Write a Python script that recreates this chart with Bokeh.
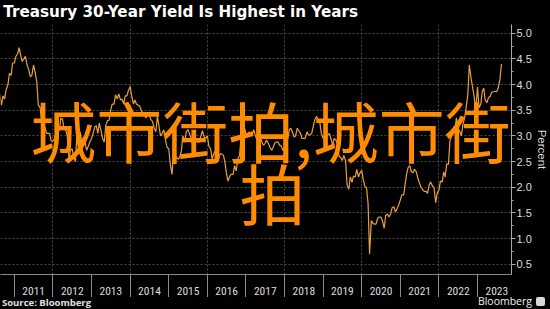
import numpy as np
import pandas as pd
from bokeh.plotting import figure
from bokeh.layouts import column
from bokeh.models import FixedTicker, Label, Range1d, NumeralTickFormatter, Div
from bokeh.embed import file_html
from bokeh.resources import INLINE

# ---- data (30-year Treasury yield, percent, 1st & 15th of each month) ----
y2010 = [3.82, 3.60, 3.78, 3.72, 3.90, 4.00, 4.22, 4.18, 4.42]
y2011 = [4.42, 4.55, 4.60, 4.72, 4.58, 4.45, 4.50, 4.55, 4.38, 4.30, 4.15, 4.18,
         4.38, 4.25, 4.05, 3.60, 3.55, 3.30, 2.85, 3.18, 3.05, 3.05, 3.05, 2.90]
y2012 = [2.90, 2.95, 3.05, 3.15, 3.10, 3.35, 3.32, 3.12, 3.12, 3.00, 2.55, 2.72,
         2.75, 2.58, 2.50, 3.02, 2.80, 3.08, 2.85, 2.98, 2.88, 2.72, 2.80, 2.88]
y2013 = [2.95, 3.05, 3.18, 3.20, 3.05, 3.25, 3.10, 2.95, 2.88, 3.20, 3.30, 3.30,
         3.50, 3.62, 3.62, 3.80, 3.72, 3.82, 3.70, 3.72, 3.62, 3.78, 3.78, 3.88]
y2014 = [3.96, 3.78, 3.62, 3.70, 3.62, 3.60, 3.58, 3.50, 3.45, 3.40, 3.35, 3.45,
         3.40, 3.32, 3.28, 3.15, 3.08, 3.38, 3.18, 3.00, 3.05, 3.12, 2.92, 2.78]
y2015 = [2.75, 2.45, 2.25, 2.70, 2.62, 2.58, 2.55, 2.58, 2.72, 3.00, 2.88, 3.08,
         3.12, 3.05, 2.95, 2.82, 2.95, 2.95, 2.88, 2.88, 3.00, 3.10, 2.98, 2.95]
y2016 = [3.00, 2.80, 2.75, 2.55, 2.65, 2.70, 2.65, 2.55, 2.65, 2.65, 2.62, 2.50,
         2.25, 2.12, 2.22, 2.25, 2.25, 2.42, 2.32, 2.55, 2.62, 2.95, 3.05, 3.18]
y2017 = [3.05, 3.00, 3.08, 3.02, 3.02, 3.12, 3.00, 2.92, 2.98, 2.98, 2.88, 2.82,
         2.85, 2.92, 2.85, 2.78, 2.72, 2.78, 2.86, 2.88, 2.88, 2.82, 2.80, 2.72]
y2018 = [2.75, 2.88, 2.95, 3.12, 3.15, 3.08, 2.98, 3.00, 3.15, 3.10, 3.05, 2.95,
         2.95, 2.95, 3.08, 3.02, 3.02, 3.05, 3.20, 3.32, 3.38, 3.30, 3.25, 3.05]
y2019 = [2.95, 3.00, 3.00, 3.02, 3.05, 2.95, 2.82, 2.95, 2.92, 2.85, 2.60, 2.58,
         2.52, 2.62, 2.52, 2.05, 1.96, 2.20, 2.10, 2.22, 2.20, 2.35, 2.20, 2.28]
y2020 = [2.33, 2.15, 2.00, 2.00, 1.68, 0.70, 1.35, 1.30, 1.28, 1.28, 1.40, 1.42,
         1.42, 1.35, 1.20, 1.45, 1.48, 1.42, 1.48, 1.60, 1.62, 1.52, 1.58, 1.65]
y2021 = [1.75, 1.85, 1.85, 2.05, 2.25, 2.38, 2.42, 2.30, 2.28, 2.35, 2.30, 2.18,
         2.08, 2.00, 1.95, 1.92, 1.92, 1.88, 2.05, 2.10, 2.02, 2.00, 1.70, 1.88]
y2022 = [1.95, 2.12, 2.10, 2.30, 2.20, 2.45, 2.45, 2.90, 3.00, 3.05, 3.10, 3.35,
         3.12, 3.10, 3.00, 3.22, 3.35, 3.55, 3.80, 4.38, 4.12, 3.95, 3.75, 3.50]
y2023 = [3.95, 3.55, 3.62, 3.87, 3.93, 3.69, 3.65, 3.75, 3.77, 3.85, 3.86, 3.87,
         3.86, 3.93, 4.10, 4.40]

year_labels = ["2011", "2012", "2013", "2014", "2015", "2016", "2017", "2018",
               "2019", "2020", "2021", "2022", "2023"]
y_ticks = [0.5, 1.0, 1.5, 2.0, 2.5, 3.0, 3.5, 4.0, 4.5, 5.0]

title_text = "Treasury 30-Year Yield Is Highest in Years"
source_text = "Source: Bloomberg"
brand_text = "Bloomberg"
overlay_line1 = "城市街拍,城市街"
overlay_line2 = "拍"

yields = (y2010 + y2011 + y2012 + y2013 + y2014 + y2015 + y2016 + y2017 +
          y2018 + y2019 + y2020 + y2021 + y2022 + y2023)
dates = pd.date_range("2010-08-15", "2023-08-15", freq="SMS")
xdec = dates.year + (dates.dayofyear - 1) / np.where(dates.is_leap_year, 366, 365)

years = [int(s) for s in year_labels]
mid_years = [y + 0.5 for y in years]
boundaries = years + [years[-1] + 1]

BG = "black"
TOP_H = 24
BOT_H = 12
MAIN_H = 309 - TOP_H - BOT_H

# ---- title strip ----
top = figure(width=550, height=TOP_H, output_backend="svg", toolbar_location=None,
             x_range=Range1d(0, 550), y_range=Range1d(0, TOP_H),
             x_axis_location=None, y_axis_location=None,
             background_fill_color=BG, border_fill_color=BG,
             outline_line_color=None, min_border=0)
top.grid.visible = False
top.add_layout(Label(x=3, y=13, text=title_text, text_color="white",
                     text_font_size="15.2px", text_font_style="bold",
                     text_font="DejaVu Sans", text_baseline="alphabetic"))

# ---- main chart ----
p = figure(width=550, height=MAIN_H, output_backend="svg", toolbar_location=None,
           x_range=Range1d(2010.64, 2023.88), y_range=Range1d(0.3, 5.17),
           y_axis_location="right",
           background_fill_color=BG, border_fill_color=BG,
           outline_line_color=None,
           min_border_left=0, min_border_right=0,
           min_border_top=0, min_border_bottom=0)

p.line(xdec, yields, line_color="#E8A040", line_width=1.2)

narrow_font = "'Liberation Sans Narrow', 'Roboto Condensed', 'Liberation Sans', sans-serif"
tick_font = "'Liberation Sans', Arial, sans-serif"

xa = p.xaxis[0]
xa.ticker = FixedTicker(ticks=mid_years, minor_ticks=boundaries)
xa.major_label_overrides = {m: lab for m, lab in zip(mid_years, year_labels)}
xa.major_tick_out = 0
xa.major_tick_in = 0
xa.minor_tick_out = 24
xa.minor_tick_in = 0
xa.minor_tick_line_color = "#8a8a8a"
xa.axis_line_color = "#8a8a8a"
xa.major_label_text_color = "#dddddd"
xa.major_label_text_font_size = "11.5px"
xa.major_label_text_font = narrow_font
xa.major_label_standoff = -12

ya = p.yaxis[0]
ya.ticker = FixedTicker(ticks=y_ticks, minor_ticks=[v + 0.25 for v in [0.25] + y_ticks])
ya.formatter = NumeralTickFormatter(format="0.0")
ya.axis_line_color = "#aaaaaa"
ya.major_tick_line_color = "#aaaaaa"
ya.minor_tick_line_color = "#aaaaaa"
ya.major_tick_out = 4
ya.major_tick_in = 0
ya.minor_tick_out = 2
ya.minor_tick_in = 0
ya.major_label_text_color = "#dddddd"
ya.major_label_text_font_size = "11px"
ya.major_label_text_font = tick_font
ya.major_label_standoff = 1
ya.axis_label = "Percent"
ya.axis_label_text_color = "#dddddd"
ya.axis_label_text_font_style = "normal"
ya.axis_label_text_font_size = "11.5px"
ya.axis_label_text_font = tick_font
ya.axis_label_standoff = 1

p.xgrid[0].ticker = FixedTicker(ticks=years[1::2])
for g in (p.xgrid[0], p.ygrid[0]):
    g.grid_line_color = "#4a4a4a"
    g.grid_line_dash = "2 2"
    g.grid_line_width = 1

p.add_layout(Label(x=270, y=146, x_units="screen", y_units="screen", text=overlay_line1,
                   text_color="#FF8C00", text_font_size="66px",
                   text_font="Noto Sans CJK SC", text_align="center",
                   text_baseline="alphabetic"))
p.add_layout(Label(x=272, y=84, x_units="screen", y_units="screen", text=overlay_line2,
                   text_color="#FF8C00", text_font_size="66px",
                   text_font="Noto Sans CJK SC", text_align="center",
                   text_baseline="alphabetic"))

# ---- footer ----
footer_html = (
    '<div style="position:relative;width:550px;height:12px;background:#000;overflow:visible;">'
    '<span style="position:absolute;left:2px;top:1px;font-family:\'Open Sans\',sans-serif;'
    'font-weight:bold;font-size:9.5px;line-height:10px;color:#e0e0e0;white-space:nowrap;">'
    + source_text + '</span>'
    '<span style="position:absolute;right:18px;top:-1px;font-family:\'Open Sans\',sans-serif;'
    'font-size:10.5px;line-height:11px;color:#f0f0f0;white-space:nowrap;">'
    + brand_text + '</span>'
    '<span style="position:absolute;left:536px;top:0px;width:9px;height:9px;'
    'background:#d8d8d8;border-radius:2px;"></span>'
    '</div>'
)
footer = Div(text=footer_html, width=550, height=BOT_H,
             styles={"background-color": "black", "margin": "0", "padding": "0"})

layout = column(top, p, footer, spacing=0, background=BG)
open("out.html", "w").write(file_html(layout, INLINE))
